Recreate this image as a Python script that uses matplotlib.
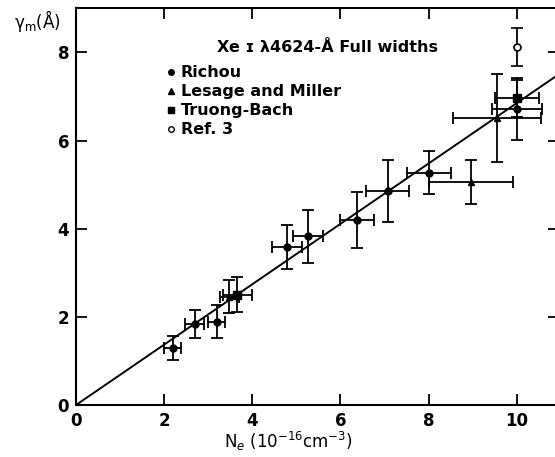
import matplotlib
matplotlib.use("Agg")
import matplotlib.pyplot as plt
from matplotlib.lines import Line2D

# Richou (filled dots)
richou_x = [2.19, 2.69, 3.19, 4.78, 5.26, 6.37, 7.07, 8.0, 10.0]
richou_y = [1.29, 1.83, 1.89, 3.58, 3.83, 4.20, 4.86, 5.27, 6.71]
richou_xerr = [0.2, 0.21, 0.2, 0.34, 0.34, 0.39, 0.48, 0.5, 0.57]
richou_yerr = [0.27, 0.32, 0.37, 0.5, 0.6, 0.63, 0.7, 0.49, 0.7]

# Lesage and Miller (triangles)
lesage_x = [3.48, 8.96, 9.56]
lesage_y = [2.46, 5.07, 6.51]
lesage_xerr = [0.21, 0.96, 1.0]
lesage_yerr = [0.37, 0.5, 1.0]

# Truong-Bach (squares)
truong_x = [3.66, 10.0]
truong_y = [2.50, 6.96]
truong_xerr = [0.33, 0.5]
truong_yerr = [0.4, 0.42]

# Ref. 3 (open circle)
ref3_x = [10.0]
ref3_y = [8.13]
ref3_yerr = [0.43]

fit_x = [0, 11]
fit_slope = 0.685

fig = plt.figure(figsize=(5.55, 4.57), dpi=100)
ax = fig.add_axes([0.137, 0.1138, 0.8694, 0.8678])

ebkw = dict(ecolor="black", elinewidth=1.3, capsize=4, capthick=1.3,
            linestyle="none", color="black", zorder=3)
ax.errorbar(richou_x, richou_y, xerr=richou_xerr, yerr=richou_yerr,
            marker="o", markersize=5, **ebkw)
ax.errorbar(lesage_x, lesage_y, xerr=lesage_xerr, yerr=lesage_yerr,
            marker="^", markersize=5, **ebkw)
ax.errorbar(truong_x, truong_y, xerr=truong_xerr, yerr=truong_yerr,
            marker="s", markersize=6, **ebkw)
ax.errorbar(ref3_x, ref3_y, yerr=ref3_yerr, marker="o", markersize=5,
            markerfacecolor="white", markeredgewidth=1.2, **ebkw)

ax.plot(fit_x, [fit_slope * v for v in fit_x], color="black", lw=1.4, zorder=2)

ax.set_xlim(0, 10.95)
ax.set_ylim(0, 9)
ax.set_xticks([0, 2, 4, 6, 8, 10])
ax.set_yticks([0, 2, 4, 6, 8])
ax.tick_params(direction="in", length=8, width=1.3, top=True, right=True,
               labelsize=12, pad=5)
for lbl in ax.get_xticklabels() + ax.get_yticklabels():
    lbl.set_fontweight("bold")
for s in ax.spines.values():
    s.set_linewidth(1.5)

fig.text(0.068, 0.955, "γ$_\\mathrm{m}$(Å)", fontsize=12, ha="center", va="center")
fig.text(0.52, 0.035, r"N$_e$ (10$^{-16}$cm$^{-3}$)", fontsize=12,
         ha="center", va="center")

ax.text(3.2, 8.12, "Xe ɪ λ4624-Å Full widths", fontsize=11.5,
        fontweight="bold", va="center", ha="left")

handles = [
    Line2D([], [], marker="o", color="black", linestyle="none", markersize=4),
    Line2D([], [], marker="^", color="black", linestyle="none", markersize=4),
    Line2D([], [], marker="s", color="black", linestyle="none", markersize=5),
    Line2D([], [], marker="o", color="black", linestyle="none", markersize=4,
           markerfacecolor="white"),
]
labels = ["Richou", "Lesage and Miller", "Truong-Bach", "Ref. 3"]
ax.legend(handles, labels, loc="upper left", bbox_to_anchor=(0.285, 0.875),
          bbox_transform=fig.transFigure, frameon=False, handlelength=0.6,
          handletextpad=0.3, labelspacing=0.25, borderpad=0,
          prop={"size": 11.5, "weight": "bold"})

fig.savefig("out.png", dpi=100)
